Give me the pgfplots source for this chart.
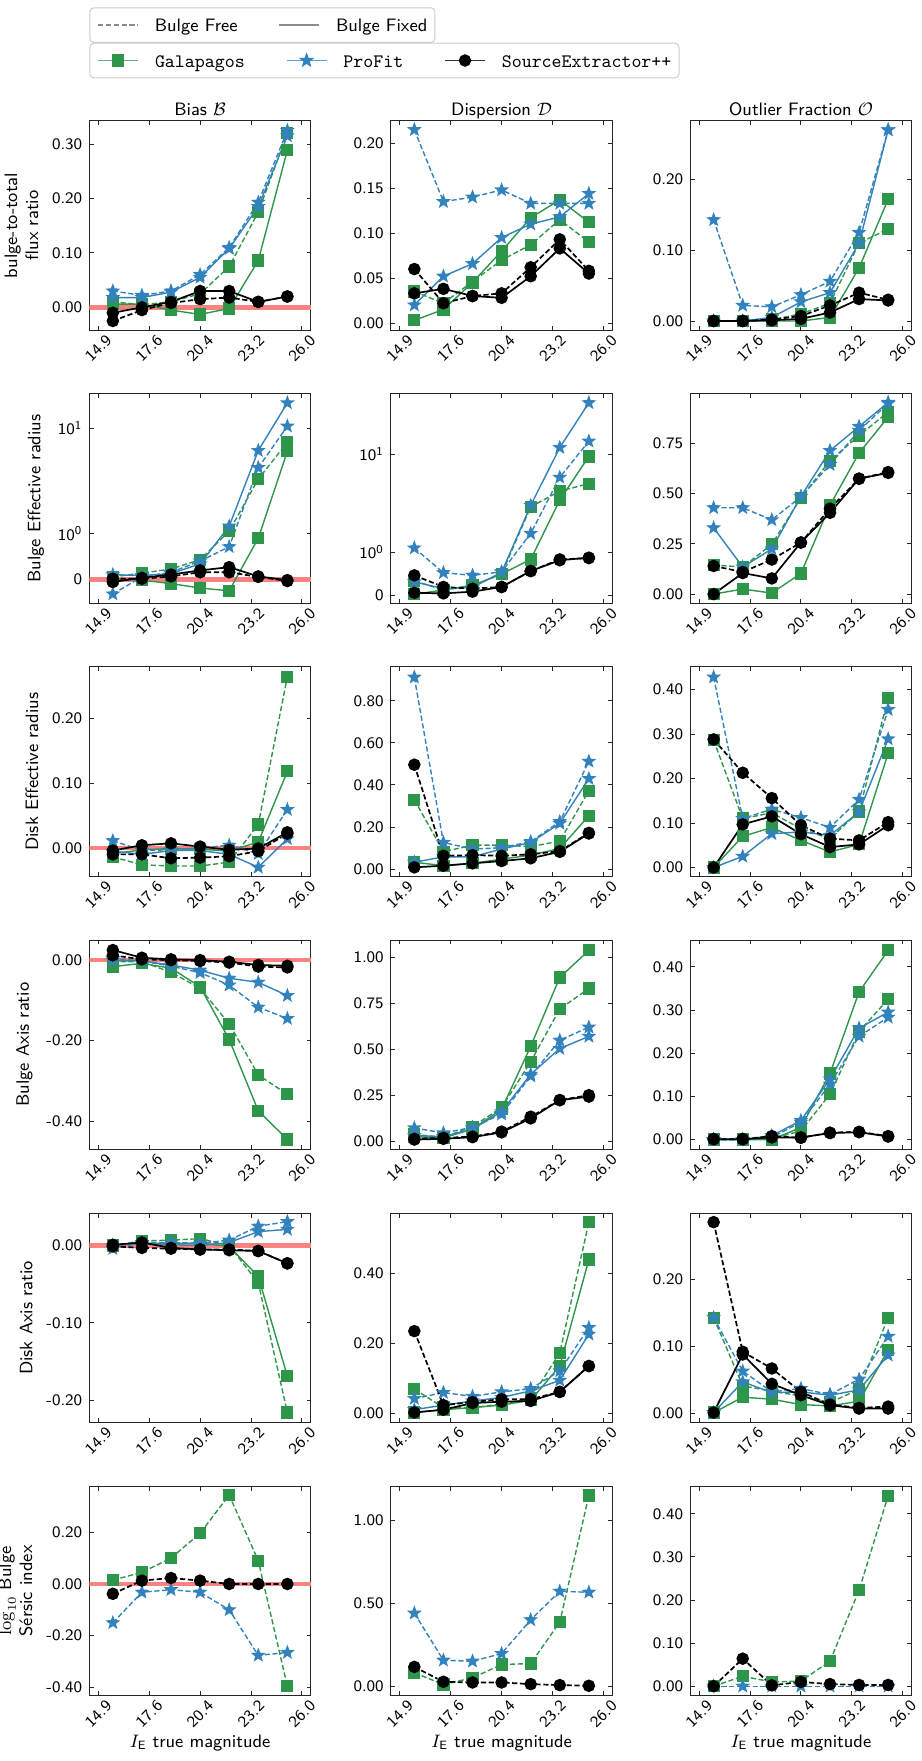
\documentclass[border=0pt]{standalone}
\usepackage{fontspec}
\usepackage{graphicx}
\usepackage{pgfplots}
\usepackage{pgfplotstable}
\pgfplotsset{compat=1.18}

\definecolor{cG}{RGB}{46,150,74}
\definecolor{cB}{RGB}{49,130,189}
\definecolor{cR}{RGB}{250,130,130}

% filled five-pointed star, like matplotlib's '*'
\pgfdeclareplotmark{fivestar}{%
  \pgfpathmoveto{\pgfpointpolar{90}{1\pgfplotmarksize}}%
  \pgfpathlineto{\pgfpointpolar{126}{0.42\pgfplotmarksize}}%
  \pgfpathlineto{\pgfpointpolar{162}{1\pgfplotmarksize}}%
  \pgfpathlineto{\pgfpointpolar{198}{0.42\pgfplotmarksize}}%
  \pgfpathlineto{\pgfpointpolar{234}{1\pgfplotmarksize}}%
  \pgfpathlineto{\pgfpointpolar{270}{0.42\pgfplotmarksize}}%
  \pgfpathlineto{\pgfpointpolar{306}{1\pgfplotmarksize}}%
  \pgfpathlineto{\pgfpointpolar{342}{0.42\pgfplotmarksize}}%
  \pgfpathlineto{\pgfpointpolar{18}{1\pgfplotmarksize}}%
  \pgfpathlineto{\pgfpointpolar{54}{0.42\pgfplotmarksize}}%
  \pgfpathclose
  \pgfusepathqfillstroke
}

\pgfplotsset{
  panel/.style={
    scale only axis, width=110.8pt, height=104.75pt, anchor=north west,
    xmin=14.41, xmax=26.49,
    xtick={14.9,17.675,20.45,23.225,26.0},
    xticklabels={\rotatebox{45}{14.9},\rotatebox{45}{17.6},\rotatebox{45}{20.4},\rotatebox{45}{23.2},\rotatebox{45}{26.0}},
    tick align=inside, major tick length=2.2pt, minor tick num=0,
    axis line style={line width=0.45pt, black!85},
    every tick/.append style={line width=0.45pt, black!85},
    tick label style={font=\fontsize{8}{9}\selectfont\sffamily},
    /pgf/number format/assume math mode=true,
    yticklabel style={/pgf/number format/.cd, fixed, fixed zerofill, precision=2},
    xticklabel style={anchor=north, inner sep=0pt, yshift=-1.6pt},
    ylabel style={font=\fontsize{9}{10.5}\selectfont\sffamily, align=center},
    every axis x label/.style={at={(0.5,0)}, anchor=base, yshift=-26pt,
      font=\fontsize{9}{10.5}\selectfont\sffamily},
    every axis title/.style={at={(0.5,1)}, anchor=base, yshift=2.85pt,
      font=\fontsize{9}{10.5}\selectfont\sffamily},
  },
  symlog/.style={
    y coord trafo/.code={\pgfmathparse{0.44*max(-1,min(1,##1))+log10(max(##1,1))-log10(max(0-(##1),1))}},
    ytick={0,1,10}, yticklabels={0,10\textsuperscript{0},10\textsuperscript{1}},
  },
  gfree/.style={cG, line width=0.7pt, dash pattern=on 2.6pt off 1.3pt, mark=square*, mark size=2.7pt, mark options={solid, fill=cG}},
  gfix/.style={cG, line width=0.7pt, mark=square*, mark size=2.7pt, mark options={solid, fill=cG}},
  pfree/.style={cB, line width=0.7pt, dash pattern=on 2.6pt off 1.3pt, mark=fivestar, mark size=2.9pt, mark options={solid, fill=cB}},
  pfix/.style={cB, line width=0.7pt, mark=fivestar, mark size=2.9pt, mark options={solid, fill=cB}},
  sfree/.style={black, line width=0.85pt, dash pattern=on 2.6pt off 1.3pt, mark=*, mark size=2.7pt, mark options={solid, fill=black}},
  sfix/.style={black, line width=0.85pt, mark=*, mark size=2.7pt, mark options={solid, fill=black}},
}

\newcommand{\zeroband}{\addplot[cR, line width=2.2pt, forget plot] coordinates {(14.41,0) (26.49,0)};}
\newcommand{\sixplots}[1]{%
  \addplot[gfree] table[x=x,y=gf]{#1};
  \addplot[gfix] table[x=x,y=gx]{#1};
  \addplot[pfree] table[x=x,y=pf]{#1};
  \addplot[pfix] table[x=x,y=px]{#1};
  \addplot[sfree] table[x=x,y=sf]{#1};
  \addplot[sfix] table[x=x,y=sx]{#1};
}
\newcommand{\threeplots}[1]{%
  \addplot[gfree] table[x=x,y=gf]{#1};
  \addplot[pfree] table[x=x,y=pf]{#1};
  \addplot[sfree] table[x=x,y=sf]{#1};
}

% gf/gx = Galapagos free/fixed, pf/px = ProFit, sf/sx = SourceExtractor++
\pgfplotstableread{
x gf gx pf px sf sx
15.693 0.010 0.006 0.030 0.018 -0.025 -0.010
17.279 0.005 0.006 0.022 0.018 -0.005 0.000
18.864 0.010 -0.005 0.030 0.028 0.008 0.010
20.450 0.025 -0.013 0.060 0.055 0.015 0.030
22.036 0.075 -0.002 0.110 0.108 0.018 0.030
23.621 0.175 0.086 0.193 0.185 0.010 0.010
25.207 0.320 0.289 0.325 0.315 0.020 0.020
}\tAA
\pgfplotstableread{
x gf gx pf px sf sx
15.693 0.035 0.003 0.215 0.020 0.060 0.033
17.279 0.022 0.015 0.135 0.052 0.022 0.038
18.864 0.046 0.045 0.140 0.066 0.030 0.030
20.450 0.070 0.080 0.148 0.095 0.033 0.028
22.036 0.087 0.117 0.133 0.110 0.062 0.052
23.621 0.115 0.137 0.133 0.118 0.093 0.083
25.207 0.090 0.112 0.133 0.144 0.058 0.055
}\tAB
\pgfplotstableread{
x gf gx pf px sf sx
15.693 0.000 0.000 0.143 0.000 0.000 0.000
17.279 0.000 0.000 0.022 0.000 0.000 0.000
18.864 0.002 0.000 0.020 0.005 0.002 0.001
20.450 0.010 0.000 0.037 0.027 0.007 0.003
22.036 0.025 0.005 0.056 0.040 0.022 0.012
23.621 0.110 0.075 0.125 0.110 0.040 0.031
25.207 0.130 0.172 0.270 0.270 0.030 0.029
}\tAC
\pgfplotstableread{
x gf gx pf px sf sx
15.693 0.06 0.02 -0.31 0.107 0.02 -0.05
17.279 0.14 -0.01 0.06 0.09 0.02 0.04
18.864 0.23 -0.085 0.16 0.13 0.07 0.11
20.450 0.43 -0.18 0.40 0.34 0.16 0.20
22.036 1.05 -0.24 0.71 1.17 0.16 0.27
23.621 3.27 0.895 4.2 6.1 0.06 0.07
25.207 7.3 6.0 10.4 17.3 -0.03 -0.01
}\tBA
\pgfplotstableread{
x gf gx pf px sf sx
15.693 0.33 0.02 1.1 0.31 0.46 0.055
17.279 0.12 0.12 0.52 0.15 0.19 0.04
18.864 0.21 0.23 0.46 0.18 0.15 0.08
20.450 0.49 0.49 0.54 0.53 0.19 0.19
22.036 2.9 0.83 1.55 3.0 0.56 0.56
23.621 4.2 3.4 5.8 11.7 0.83 0.81
25.207 5.0 9.5 13.6 33.6 0.86 0.87
}\tBB
\pgfplotstableread{
x gf gx pf px sf sx
15.693 0.145 0.000 0.430 0.330 0.140 0.000
17.279 0.135 0.025 0.430 0.135 0.110 0.105
18.864 0.248 0.005 0.370 0.225 0.172 0.078
20.450 0.480 0.103 0.485 0.487 0.257 0.257
22.036 0.665 0.443 0.645 0.715 0.426 0.405
23.621 0.790 0.703 0.815 0.835 0.575 0.575
25.207 0.907 0.882 0.950 0.955 0.608 0.604
}\tBC
\pgfplotstableread{
x gf gx pf px sf sx
15.693 -0.014 -0.009 0.011 -0.005 -0.010 -0.004
17.279 -0.026 -0.003 -0.004 -0.010 -0.010 0.004
18.864 -0.028 -0.001 -0.003 -0.004 -0.016 0.007
20.450 -0.028 -0.002 0.000 -0.004 -0.015 0.002
22.036 -0.022 -0.005 0.004 -0.010 -0.013 -0.003
23.621 0.036 0.009 -0.009 -0.030 -0.005 -0.001
25.207 0.264 0.118 0.059 0.014 0.022 0.024
}\tCA
\pgfplotstableread{
x gf gx pf px sf sx
15.693 0.330 0.032 0.912 0.032 0.496 0.008
17.279 0.082 0.016 0.126 0.058 0.063 0.016
18.864 0.114 0.027 0.095 0.058 0.066 0.027
20.450 0.114 0.047 0.101 0.095 0.063 0.038
22.036 0.106 0.066 0.130 0.126 0.070 0.051
23.621 0.133 0.098 0.225 0.217 0.085 0.082
25.207 0.372 0.253 0.512 0.430 0.172 0.169
}\tCB
\pgfplotstableread{
x gf gx pf px sf sx
15.693 0.286 0.000 0.428 0.000 0.288 0.000
17.279 0.110 0.070 0.110 0.025 0.213 0.097
18.864 0.123 0.090 0.131 0.076 0.156 0.115
20.450 0.087 0.061 0.112 0.080 0.095 0.075
22.036 0.065 0.035 0.090 0.072 0.065 0.046
23.621 0.126 0.052 0.153 0.125 0.061 0.052
25.207 0.381 0.257 0.355 0.289 0.102 0.095
}\tCC
\pgfplotstableread{
x gf gx pf px sf sx
15.693 -0.004 -0.016 0.004 0.000 0.012 0.025
17.279 -0.004 -0.008 -0.002 -0.002 0.002 0.006
18.864 -0.030 -0.020 -0.015 -0.012 0.000 0.002
20.450 -0.070 -0.066 -0.031 -0.025 -0.002 0.000
22.036 -0.158 -0.197 -0.062 -0.045 -0.006 -0.004
23.621 -0.285 -0.374 -0.117 -0.055 -0.016 -0.012
25.207 -0.333 -0.445 -0.145 -0.088 -0.018 -0.014
}\tDA
\pgfplotstableread{
x gf gx pf px sf sx
15.693 0.036 0.025 0.072 0.030 0.013 0.009
17.279 0.022 0.018 0.045 0.025 0.018 0.013
18.864 0.079 0.066 0.075 0.066 0.025 0.022
20.450 0.183 0.174 0.147 0.160 0.052 0.048
22.036 0.431 0.515 0.354 0.363 0.133 0.124
23.621 0.718 0.889 0.548 0.503 0.223 0.223
25.207 0.829 1.036 0.619 0.569 0.250 0.242
}\tDB
\pgfplotstableread{
x gf gx pf px sf sx
15.693 0.000 0.000 0.000 0.000 0.001 0.001
17.279 0.000 0.000 0.000 0.000 0.001 0.001
18.864 0.002 0.000 0.005 0.009 0.008 0.005
20.450 0.020 0.028 0.040 0.044 0.004 0.005
22.036 0.105 0.153 0.128 0.140 0.016 0.015
23.621 0.250 0.342 0.239 0.258 0.018 0.017
25.207 0.325 0.438 0.283 0.295 0.008 0.007
}\tDC
\pgfplotstableread{
x gf gx pf px sf sx
15.693 0.000 0.001 -0.004 0.000 -0.001 0.001
17.279 0.006 0.003 0.004 0.003 -0.003 0.004
18.864 0.007 0.003 0.004 0.001 -0.004 -0.003
20.450 0.009 0.003 0.003 0.000 -0.005 -0.005
22.036 0.000 -0.001 0.007 0.004 -0.005 -0.006
23.621 -0.048 -0.040 0.025 0.018 -0.007 -0.007
25.207 -0.216 -0.169 0.031 0.021 -0.023 -0.023
}\tEA
\pgfplotstableread{
x gf gx pf px sf sx
15.693 0.069 0.002 0.042 0.010 0.235 0.002
17.279 0.016 0.010 0.059 0.023 0.023 0.010
18.864 0.016 0.016 0.048 0.035 0.032 0.029
20.450 0.026 0.023 0.061 0.045 0.040 0.033
22.036 0.042 0.037 0.070 0.064 0.040 0.035
23.621 0.173 0.135 0.121 0.094 0.061 0.061
25.207 0.547 0.440 0.245 0.226 0.135 0.135
}\tEB
\pgfplotstableread{
x gf gx pf px sf sx
15.693 0.143 0.001 0.143 0.001 0.286 0.001
17.279 0.041 0.024 0.063 0.047 0.092 0.088
18.864 0.033 0.021 0.032 0.031 0.067 0.044
20.450 0.026 0.013 0.037 0.032 0.032 0.027
22.036 0.016 0.011 0.028 0.027 0.013 0.012
23.621 0.036 0.018 0.051 0.035 0.008 0.007
25.207 0.143 0.095 0.115 0.087 0.010 0.007
}\tEC
\pgfplotstableread{
x gf pf sf
15.693 0.015 -0.150 -0.038
17.279 0.045 -0.032 0.013
18.864 0.100 -0.022 0.023
20.450 0.196 -0.032 0.013
22.036 0.344 -0.100 0.000
23.621 0.090 -0.276 0.000
25.207 -0.395 -0.265 0.000
}\tFA
\pgfplotstableread{
x gf pf sf
15.693 0.080 0.440 0.116
17.279 0.010 0.156 0.026
18.864 0.050 0.150 0.022
20.450 0.130 0.196 0.022
22.036 0.136 0.400 0.012
23.621 0.386 0.572 0.006
25.207 1.150 0.566 0.002
}\tFB
\pgfplotstableread{
x gf pf sf
15.693 0.000 0.000 0.000
17.279 0.023 0.000 0.064
18.864 0.010 0.000 0.002
20.450 0.012 0.000 0.010
22.036 0.058 0.000 0.005
23.621 0.223 0.000 0.003
25.207 0.442 0.000 0.003
}\tFC

\begin{document}
\begin{tikzpicture}
\useasboundingbox (0,0) rectangle (460.5pt,-880.5pt);

% legend: line styles
\begin{axis}[hide axis, scale only axis, width=20pt, height=20pt,
  xmin=0, xmax=1, ymin=0, ymax=1, at={(44.65pt,-3.65pt)}, anchor=north west,
  legend columns=2,
  legend image code/.code={\draw[#1] (0pt,0pt) -- (20pt,0pt);},
  legend style={at={(0,1)}, anchor=north west, draw=black!20, line width=0.5pt,
    rounded corners=2pt, fill=white, inner xsep=3.8pt, inner ysep=3.9pt,
    font=\fontsize{9}{10}\selectfont\sffamily,
    nodes={inner sep=0pt, text height=8pt, text depth=1.5pt},
    /tikz/every odd column/.append style={column sep=8pt},
    /tikz/every even column/.append style={column sep=20.5pt}}]
\addlegendimage{black!45, dash pattern=on 2.6pt off 1.3pt, line width=0.7pt}
\addlegendentry{Bulge Free}
\addlegendimage{black!45, line width=0.7pt}
\addlegendentry{Bulge Fixed}
\end{axis}

% legend: codes
\begin{axis}[hide axis, scale only axis, width=20pt, height=20pt,
  xmin=0, xmax=1, ymin=0, ymax=1, at={(44.65pt,-21.35pt)}, anchor=north west,
  legend columns=3,
  legend image code/.code={\draw[mark repeat=2, mark phase=2, #1] plot coordinates {(0pt,0pt) (10pt,0pt) (20pt,0pt)};},
  legend style={at={(0,1)}, anchor=north west, draw=black!20, line width=0.5pt,
    rounded corners=2pt, fill=white, inner xsep=3.8pt, inner ysep=3.9pt,
    font=\fontsize{9.5}{10}\selectfont\ttfamily,
    nodes={inner sep=0pt, text height=8pt, text depth=1.5pt},
    /tikz/every odd column/.append style={column sep=8pt},
    /tikz/every even column/.append style={column sep=20.5pt}}]
\addlegendimage{cG!75!white, line width=0.8pt, mark=square*, mark size=2.7pt, mark options={fill=cG, draw=cG}}
\addlegendentry{Galapagos}
\addlegendimage{cB!75!white, line width=0.8pt, mark=fivestar, mark size=2.9pt, mark options={fill=cB, draw=cB}}
\addlegendentry{ProFit}
\addlegendimage{black!80, line width=0.8pt, mark=*, mark size=2.7pt, mark options={fill=black, draw=black}}
\addlegendentry{SourceExtractor++}
\end{axis}

% row 1: bulge-to-total flux ratio
\begin{axis}[panel, at={(44.65pt,-60.35pt)}, title={Bias $\mathcal{B}$},
  ylabel={bulge-to-total\\flux ratio}, ymin=-0.042, ymax=0.343, ytick={0,0.1,0.2,0.3}]
\zeroband
\sixplots{\tAA}
\end{axis}
\begin{axis}[panel, at={(195.4pt,-60.35pt)}, title={Dispersion $\mathcal{D}$},
  ymin=-0.008, ymax=0.225, ytick={0,0.05,0.1,0.15,0.2}]
\sixplots{\tAB}
\end{axis}
\begin{axis}[panel, at={(345.05pt,-60.35pt)}, title={Outlier Fraction $\mathcal{O}$},
  ymin=-0.013, ymax=0.283, ytick={0,0.1,0.2}]
\sixplots{\tAC}
\end{axis}

% row 2: bulge effective radius
\begin{axis}[panel, symlog, at={(44.65pt,-196.9pt)},
  ylabel={Bulge Effective radius}, ymin=-0.51, ymax=21.1]
\zeroband
\sixplots{\tBA}
\end{axis}
\begin{axis}[panel, symlog, at={(195.4pt,-196.9pt)}, ymin=-0.19, ymax=41.5]
\sixplots{\tBB}
\end{axis}
\begin{axis}[panel, at={(345.05pt,-196.9pt)},
  ymin=-0.046, ymax=0.998, ytick={0,0.25,0.5,0.75}]
\sixplots{\tBC}
\end{axis}

% row 3: disk effective radius
\begin{axis}[panel, at={(44.65pt,-333.45pt)},
  ylabel={Disk Effective radius}, ymin=-0.044, ymax=0.279, ytick={0,0.1,0.2}]
\zeroband
\sixplots{\tCA}
\end{axis}
\begin{axis}[panel, at={(195.4pt,-333.45pt)},
  ymin=-0.035, ymax=0.961, ytick={0,0.2,0.4,0.6,0.8}]
\sixplots{\tCB}
\end{axis}
\begin{axis}[panel, at={(345.05pt,-333.45pt)},
  ymin=-0.02, ymax=0.451, ytick={0,0.1,0.2,0.3,0.4}]
\sixplots{\tCC}
\end{axis}

% row 4: bulge axis ratio
\begin{axis}[panel, at={(44.65pt,-470pt)},
  ylabel={Bulge Axis ratio}, ymin=-0.47, ymax=0.05, ytick={-0.4,-0.2,0}]
\zeroband
\sixplots{\tDA}
\end{axis}
\begin{axis}[panel, at={(195.4pt,-470pt)},
  ymin=-0.045, ymax=1.092, ytick={0,0.25,0.5,0.75,1}]
\sixplots{\tDB}
\end{axis}
\begin{axis}[panel, at={(345.05pt,-470pt)},
  ymin=-0.023, ymax=0.462, ytick={0,0.1,0.2,0.3,0.4}]
\sixplots{\tDC}
\end{axis}

% row 5: disk axis ratio
\begin{axis}[panel, at={(44.65pt,-606.55pt)},
  ylabel={Disk Axis ratio}, ymin=-0.229, ymax=0.042, ytick={-0.2,-0.1,0}]
\zeroband
\sixplots{\tEA}
\end{axis}
\begin{axis}[panel, at={(195.4pt,-606.55pt)},
  ymin=-0.027, ymax=0.573, ytick={0,0.2,0.4}]
\sixplots{\tEB}
\end{axis}
\begin{axis}[panel, at={(345.05pt,-606.55pt)},
  ymin=-0.014, ymax=0.2995, ytick={0,0.1,0.2,0.3}]
\sixplots{\tEC}
\end{axis}

% row 6: log10 bulge Sersic index (bulge free only)
\begin{axis}[panel, at={(44.65pt,-743.1pt)},
  ylabel={$\log_{10}$ Bulge\\Sérsic index}, xlabel={$I_{\mathsf{E}}$ true magnitude},
  ymin=-0.432, ymax=0.378, ytick={-0.4,-0.2,0,0.2}]
\zeroband
\threeplots{\tFA}
\end{axis}
\begin{axis}[panel, at={(195.4pt,-743.1pt)}, xlabel={$I_{\mathsf{E}}$ true magnitude},
  ymin=-0.058, ymax=1.206, ytick={0,0.5,1}]
\threeplots{\tFB}
\end{axis}
\begin{axis}[panel, at={(345.05pt,-743.1pt)}, xlabel={$I_{\mathsf{E}}$ true magnitude},
  ymin=-0.022, ymax=0.464, ytick={0,0.1,0.2,0.3,0.4}]
\threeplots{\tFC}
\end{axis}
\end{tikzpicture}
\end{document}
